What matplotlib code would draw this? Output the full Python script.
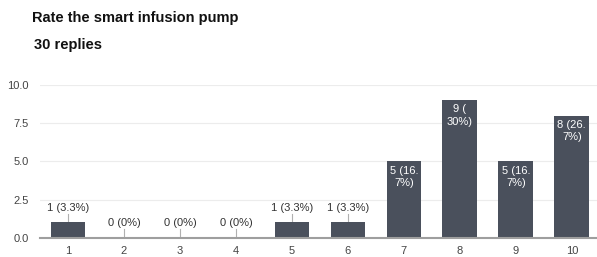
import matplotlib.pyplot as plt

plt.rcParams['font.family'] = ['Liberation Sans', 'DejaVu Sans']

# survey data
ratings = ['1', '2', '3', '4', '5', '6', '7', '8', '9', '10']
counts = [1, 0, 0, 0, 1, 1, 5, 9, 5, 8]
labels = ['1 (3.3%)', '0 (0%)', '0 (0%)', '0 (0%)', '1 (3.3%)', '1 (3.3%)',
          '5 (16.\n7%)', '9 (\n30%)', '5 (16.\n7%)', '8 (26.\n7%)']
yticks = [0.0, 2.5, 5.0, 7.5, 10.0]

BAR = '#4a505c'

fig = plt.figure(figsize=(5.97, 2.57), dpi=100)
fig.text(0.053, 0.93, 'Rate the smart infusion pump', fontsize=10.5, fontweight='bold',
         color='#111111', va='center')
fig.text(0.057, 0.825, '30 replies', fontsize=10.5, fontweight='bold',
         color='#111111', va='center')

ax = fig.add_axes([0.067, 0.075, 0.933, 0.594])
x = list(range(1, len(ratings) + 1))
ax.bar(x, counts, width=0.62, color=BAR, zorder=3)

for xi, c, lab in zip(x, counts, labels):
    if c >= 3:
        ax.annotate(lab, (xi, c), xytext=(0, -3), textcoords='offset points',
                    ha='center', va='top', fontsize=8, color='white',
                    linespacing=1.3, zorder=4)
    else:
        ax.plot([xi, xi], [c, c + 0.55], color='#b0b0b0', lw=0.8, zorder=2)
        ax.text(xi, c + 0.95, lab, ha='center', va='center', fontsize=8,
                color='#333333', zorder=4)

ax.set_xlim(0.5, 10.45)
ax.set_ylim(0, 10)
ax.set_xticks(x)
ax.set_xticklabels(ratings)
ax.set_yticks(yticks)
ax.set_yticklabels([f'{v:.1f}' for v in yticks])
ax.tick_params(length=0, labelsize=8, colors='#444444')
ax.tick_params(axis='x', pad=6)
ax.tick_params(axis='y', pad=8)
ax.grid(axis='y', color='#ececec', lw=0.8, zorder=0)
for s in ['top', 'right', 'left']:
    ax.spines[s].set_visible(False)
ax.spines['bottom'].set_color('#9e9e9e')
ax.spines['bottom'].set_linewidth(1.5)
ax.spines['bottom'].set_zorder(5)

fig.savefig('out.png', dpi=100)
